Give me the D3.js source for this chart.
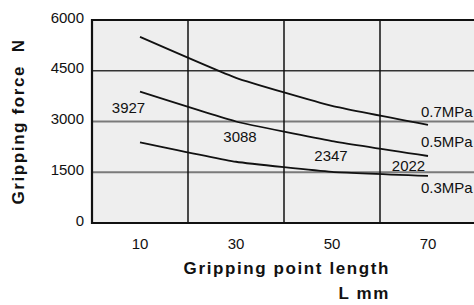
<!DOCTYPE html>
<html>
<head>
<meta charset="utf-8">
<script src="https://cdn.jsdelivr.net/npm/d3@7"></script>
<style>
  body { margin: 0; background: #fff; }
  svg { display: block; font-family: "Liberation Sans", Arial, sans-serif; }
  .tick-label { font-size: 15px; fill: #111; }
  .axis-title { font-size: 17px; font-weight: bold; letter-spacing: 1.6px; fill: #111; white-space: pre; }
</style>
</head>
<body>
<div id="chart"></div>
<script>
/* Gripping force vs gripping point length */

const lengths = [10, 30, 50, 70];
const xTicks = [10, 30, 50, 70];
const yTicks = [0, 1500, 3000, 4500, 6000];
const xGrid = [20, 40, 60];

const p07 = [5500, 4290, 3460, 2900];
const p05 = [3880, 3000, 2420, 1980];
const p03 = [2385, 1810, 1510, 1390];
const seriesNames = ["0.7MPa", "0.5MPa", "0.3MPa"];

const valueLabels = ["3927", "3088", "2347", "2022"]; // printed next to 0.5MPa

const width = 474,
    height = 305,
    margin = ({ top: 20, right: -2, bottom: 82, left: 92 });

const svg = d3.select("#chart")
    .append("svg")
    .attr("width", width)
    .attr("height", height);

let x = d3.scaleLinear()
    .domain([0, 80])
    .range([margin.left, width - margin.right]);

let y = d3.scaleLinear()
    .domain([0, 6000])
    .range([height - margin.bottom, margin.top]);

// plot background
svg.append("rect")
    .attr("x", x(0))
    .attr("y", y(6000))
    .attr("width", x(80) - x(0))
    .attr("height", y(0) - y(6000))
    .attr("fill", "#eeeeee");

// horizontal gridlines
svg.append("g")
  .selectAll("line")
  .data(yTicks.filter(d => d > 0 && d < 6000))
  .join("line")
    .attr("x1", x(0))
    .attr("x2", x(80))
    .attr("y1", d => y(d))
    .attr("y2", d => y(d))
    .attr("stroke", d => d == 4500 ? "#333" : "#7a7a7a")
    .attr("stroke-width", d => d == 4500 ? 1.5 : 2);

// vertical gridlines
svg.append("g")
  .selectAll("line")
  .data(xGrid)
  .join("line")
    .attr("x1", d => x(d))
    .attr("x2", d => x(d))
    .attr("y1", y(6000))
    .attr("y2", y(0))
    .attr("stroke", "#111")
    .attr("stroke-width", 1.5);

// frame: top, left, bottom
svg.append("path")
    .attr("d", `M${x(80)},${y(6000)}H${x(0)}V${y(0)}H${x(80)}`)
    .attr("fill", "none")
    .attr("stroke", "#111")
    .attr("stroke-width", 2.2);

// y tick labels
svg.append("g")
  .selectAll("text")
  .data(yTicks)
  .join("text")
    .attr("class", "tick-label")
    .attr("text-anchor", "end")
    .attr("x", x(0) - 8)
    .attr("y", d => y(d) + 2.5)
    .text(d => d);

// x tick labels
svg.append("g")
  .selectAll("text")
  .data(xTicks)
  .join("text")
    .attr("class", "tick-label")
    .attr("text-anchor", "middle")
    .attr("x", d => x(d))
    .attr("y", y(0) + 26)
    .text(d => d);

// lines, only lightly rounded at the joints
let line = d3.line()
    .x((d, i) => x(lengths[i]))
    .y(d => y(d))
    .curve(d3.curveCardinal.tension(0.6));

const series = [p07, p05, p03];

svg.append("g")
  .selectAll("path")
  .data(series)
  .join("path")
    .attr("d", line)
    .attr("fill", "none")
    .attr("stroke", "#111")
    .attr("stroke-width", 1.8);

// pressure labels at the line ends
const nameDy = [-8, -9, 17]; // offsets from line end
svg.append("g")
  .selectAll("text")
  .data(seriesNames)
  .join("text")
    .attr("class", "tick-label")
    .attr("x", x(70) - 7)
    .attr("y", (d, i) => y(series[i][3]) + nameDy[i])
    .text(d => d);

// value labels for 0.5MPa
const labelDx = [-11.5, 4, -1, -19.5],
    labelDy = [23, 23.5, 17, 16];
svg.append("g")
  .selectAll("text")
  .data(valueLabels)
  .join("text")
    .attr("class", "tick-label")
    .attr("text-anchor", "middle")
    .attr("x", (d, i) => x(lengths[i]) + labelDx[i])
    .attr("y", (d, i) => y(+d) + labelDy[i])
    .text(d => d);

// axis titles
svg.append("text")
    .attr("class", "axis-title")
    .attr("text-anchor", "end")
    .attr("x", 390)
    .attr("y", 274)
    .text("Gripping point length");

svg.append("text")
    .attr("class", "axis-title")
    .attr("text-anchor", "end")
    .attr("x", 390)
    .attr("y", 299)
    .text("L mm");

svg.append("text")
    .attr("class", "axis-title")
    .attr("text-anchor", "middle")
    .attr("transform", "rotate(-90)")
    .attr("x", -121.5)
    .attr("y", 24)
    .text("Gripping force  N");
</script>
</body>
</html>
